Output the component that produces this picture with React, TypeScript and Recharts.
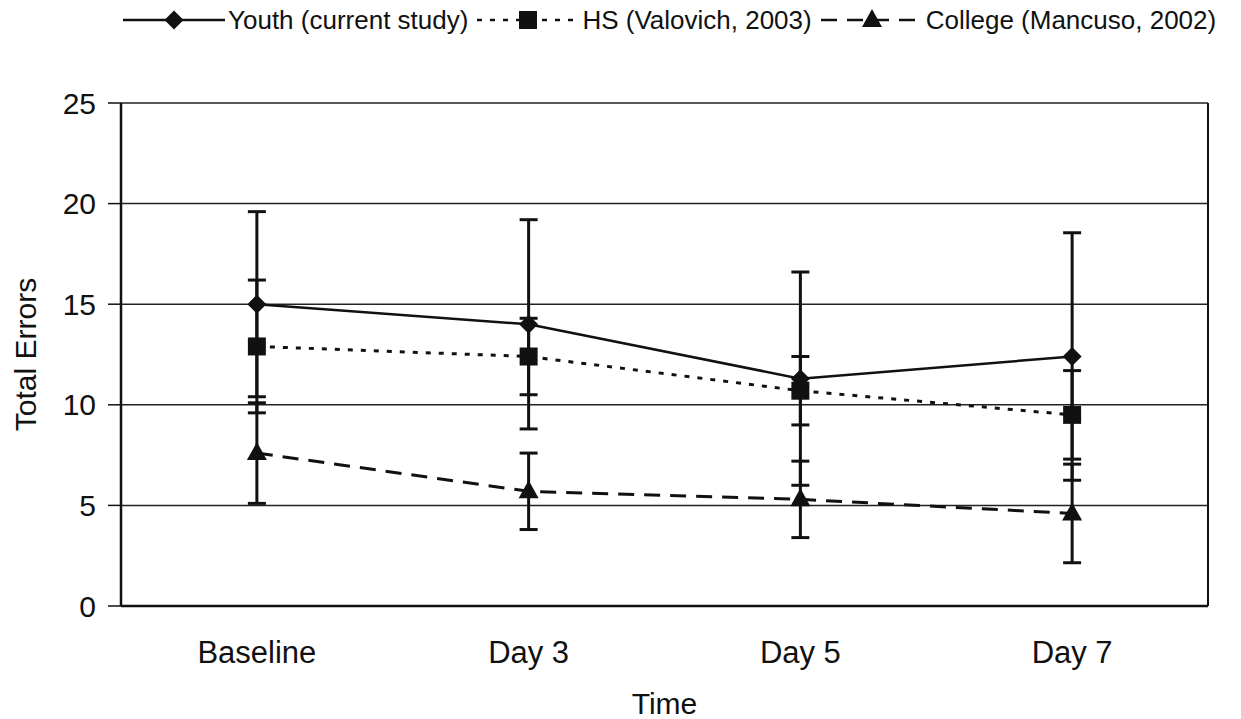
import React from 'react';
import { LineChart, Line, XAxis, YAxis, CartesianGrid, ErrorBar, Legend } from 'recharts';

const categories = ['Baseline', 'Day 3', 'Day 5', 'Day 7'];
const seriesNames = ['Youth (current study)', 'HS (Valovich, 2003)', 'College (Mancuso, 2002)'];
const youthMeans = [15.0, 14.0, 11.3, 12.4];
const youthErrors = [4.6, 5.2, 5.3, 6.15];
const hsMeans = [12.9, 12.4, 10.7, 9.5];
const hsErrors = [3.3, 1.9, 1.7, 2.2];
const collegeMeans = [7.6, 5.7, 5.3, 4.6];
const collegeErrors = [2.5, 1.9, 1.9, 2.45];
const yTicks = [0, 5, 10, 15, 20, 25];

const data = categories.map((name, i) => ({
  name,
  youth: youthMeans[i],
  youthErr: youthErrors[i],
  hs: hsMeans[i],
  hsErr: hsErrors[i],
  college: collegeMeans[i],
  collegeErr: collegeErrors[i],
}));

const FONT = '"Liberation Sans", Arial, sans-serif';
const INK = '#111';

const diamondPath = (x: number, y: number, r = 9.5) => `M${x},${y - r}L${x + r},${y}L${x},${y + r}L${x - r},${y}Z`;
const squarePath = (x: number, y: number, r = 9) => `M${x - r},${y - r}H${x + r}V${y + r}H${x - r}Z`;
const trianglePath = (x: number, y: number) => `M${x},${y - 11}L${x + 10},${y + 7}L${x - 10},${y + 7}Z`;

const makeDot = (shape: (x: number, y: number) => string) => (props: any) => {
  const { cx, cy, index } = props;
  return <path key={`dot-${index}`} d={shape(cx, cy)} fill={INK} />;
};

const legendMarks = [
  { dash: undefined, shape: diamondPath },
  { dash: '5 8', shape: squarePath },
  { dash: '16 10', shape: trianglePath },
];

function LegendContent() {
  return (
    <div style={{ display: 'flex', alignItems: 'center', height: 40, paddingLeft: 122, fontFamily: FONT, fontSize: 26, color: INK, whiteSpace: 'nowrap' }}>
      {seriesNames.map((name, i) => (
        <div key={name} style={{ display: 'flex', alignItems: 'center', marginRight: 8 }}>
          <svg width={104} height={24} style={{ marginRight: 2 }}>
            <line x1={1} y1={12} x2={103} y2={12} stroke={INK} strokeWidth={2.5} strokeDasharray={legendMarks[i].dash} />
            <path d={legendMarks[i].shape(52, 12)} fill={INK} />
          </svg>
          <span>{name}</span>
        </div>
      ))}
    </div>
  );
}

export default function App() {
  return (
    <div style={{ position: 'absolute', left: 0, top: 0, background: '#fff' }}>
      <LineChart width={1241} height={719} data={data} margin={{ top: 63, right: 32, bottom: 0, left: 0 }}>
        <Legend verticalAlign="top" content={<LegendContent />} wrapperStyle={{ top: 0, left: 0, width: 1241 }} />
        <CartesianGrid vertical={false} stroke="#222" strokeWidth={1.5} />
        <XAxis
          dataKey="name"
          scale="band"
          height={113}
          tickLine={false}
          tickSize={0}
          tickMargin={35}
          axisLine={{ stroke: INK, strokeWidth: 2.5 }}
          tick={{ fontFamily: FONT, fontSize: 31, fill: INK }}
          label={{ value: 'Time', position: 'insideBottom', offset: 5, style: { fontFamily: FONT, fontSize: 30, fill: INK } }}
        />
        <YAxis
          domain={[0, 25]}
          ticks={yTicks}
          width={121}
          tickSize={13}
          tickMargin={12}
          axisLine={{ stroke: INK, strokeWidth: 2.5 }}
          tickLine={{ stroke: INK, strokeWidth: 1.5 }}
          tick={{ fontFamily: FONT, fontSize: 30, fill: INK }}
          label={{ value: 'Total Errors', angle: -90, position: 'insideLeft', offset: 25, style: { fontFamily: FONT, fontSize: 30, fill: INK, textAnchor: 'middle' } }}
        />
        <YAxis yAxisId="frame" orientation="right" domain={[0, 25]} width={1} tick={false} tickLine={false} axisLine={{ stroke: INK, strokeWidth: 2 }} />
        <Line dataKey="youth" name={seriesNames[0]} stroke={INK} strokeWidth={2.5} dot={makeDot(diamondPath)} isAnimationActive={false}>
          <ErrorBar dataKey="youthErr" width={9} stroke={INK} strokeWidth={3} direction="y" />
        </Line>
        <Line dataKey="hs" name={seriesNames[1]} stroke={INK} strokeWidth={3} strokeDasharray="5 8" dot={makeDot(squarePath)} isAnimationActive={false}>
          <ErrorBar dataKey="hsErr" width={9} stroke={INK} strokeWidth={3} direction="y" />
        </Line>
        <Line dataKey="college" name={seriesNames[2]} stroke={INK} strokeWidth={3} strokeDasharray="16 10" dot={makeDot(trianglePath)} isAnimationActive={false}>
          <ErrorBar dataKey="collegeErr" width={9} stroke={INK} strokeWidth={3} direction="y" />
        </Line>
      </LineChart>
    </div>
  );
}
